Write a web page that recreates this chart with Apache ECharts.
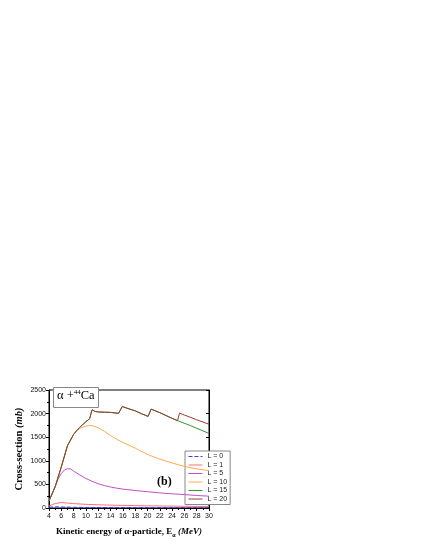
<!DOCTYPE html>
<html>
<head>
<meta charset="utf-8">
<script src="https://cdn.jsdelivr.net/npm/echarts@6/dist/echarts.min.js"></script>
<style>
  html, body { margin: 0; padding: 0; background: #fff; }
  #chart { width: 425px; height: 550px; }
</style>
</head>
<body>
<div id="chart"></div>
<script>
  // [E_alpha (MeV), cross-section (mb)]
  const seriesNames = ['L = 0', 'L = 1', 'L = 5', 'L = 10', 'L = 15', 'L = 20'];
  const seriesColors = ['#3a3aff', '#ff7070', '#c050c8', '#ffac50', '#2f9a2f', '#9a3c34'];

  const l0 = [[4, 15], [5, 25], [6, 22], [8, 16], [10, 12], [15, 9], [20, 7], [25, 6], [30, 5]];
  const l1 = [[4, 40], [5, 95], [6, 115], [7, 105], [8, 92], [10, 78], [12, 68], [15, 57], [20, 46], [25, 38], [30, 32]];
  const l5 = [[4, 150], [5, 450], [5.5, 620], [6, 730], [6.5, 805], [7, 832], [7.5, 828], [8, 780], [9, 700],
    [10, 625], [11, 565], [12, 515], [13, 475], [14, 445], [15, 420], [16, 400], [18, 370], [20, 345],
    [22, 320], [24, 300], [26, 285], [28, 265], [30, 250]];
  const l10 = [[4, 150], [5, 450], [6, 870], [7, 1320], [8, 1560], [8.5, 1630], [9, 1685], [10, 1735],
    [10.6, 1750], [11, 1745], [12, 1700], [13, 1625], [14, 1535], [15, 1455], [16, 1390], [17, 1330],
    [18, 1270], [20, 1135], [22, 1035], [24, 955], [26, 880], [28, 830], [30, 790]];
  const l15 = [[4, 150], [5, 450], [6, 870], [7, 1320], [8, 1560], [8.5, 1640], [9, 1710], [10, 1830],
    [10.6, 1890], [11, 2080], [11.5, 2045], [12, 2035], [13, 2030], [14, 2025], [15.3, 2005], [15.9, 2150],
    [17, 2100], [18, 2060], [19, 2000], [20.1, 1940], [20.6, 2095], [22, 2020], [23, 1960], [24, 1900],
    [24.9, 1850], [27, 1745], [30, 1580]];
  const l20 = [[4, 150], [5, 450], [6, 870], [7, 1320], [8, 1560], [8.5, 1640], [9, 1710], [10, 1830],
    [10.6, 1890], [11, 2080], [11.5, 2045], [12, 2035], [13, 2030], [14, 2025], [15.3, 2005], [15.9, 2150],
    [17, 2100], [18, 2060], [19, 2000], [20.1, 1940], [20.6, 2095], [22, 2020], [23, 1960], [24, 1900],
    [24.9, 1850], [25.2, 2010], [26, 1970], [28, 1870], [30, 1775]];
  const allData = [l0, l1, l5, l10, l15, l20];

  const xTicks = { min: 4, max: 30, interval: 2 };
  const yTicks = { min: 0, max: 2500, interval: 500 };

  const chart = echarts.init(document.getElementById('chart'));

  const tickLabel = { fontFamily: 'Liberation Sans', fontSize: 7, color: '#111', formatter: v => String(v) };
  const axisBase = {
    axisLine: { show: true, lineStyle: { color: '#000', width: 1 } },
    axisTick: { show: true, length: 3, lineStyle: { color: '#000' } },
    minorTick: { show: true, splitNumber: 2, length: 2, lineStyle: { color: '#000' } },
    splitLine: { show: false }
  };

  const series = allData.map((d, i) => ({
    name: seriesNames[i],
    type: 'line',
    data: d,
    symbol: 'none',
    smooth: false,
    z: 2 + i,
    lineStyle: { color: seriesColors[i], width: 1, type: i === 0 ? 'dashed' : 'solid' },
    itemStyle: { color: seriesColors[i] }
  }));

  const option = {
    animation: false,
    backgroundColor: '#fff',
    grid: {
      left: 49, right: 216, top: 390, bottom: 42,
      containLabel: false, outerBoundsMode: 'none',
      show: true, borderColor: '#000', borderWidth: 1
    },
    legend: {
      data: seriesNames,
      orient: 'vertical',
      left: 185, top: 451,
      itemWidth: 14, itemHeight: 7, itemGap: 1.5,
      padding: [2, 3, 2, 3],
      backgroundColor: '#fff',
      borderColor: '#888', borderWidth: 1, borderRadius: 0,
      itemStyle: { opacity: 0 },
      lineStyle: { width: 1 },
      textStyle: { fontFamily: 'Liberation Sans', fontSize: 7, color: '#222' }
    },
    xAxis: [{
      type: 'value', min: xTicks.min, max: xTicks.max, interval: xTicks.interval,
      position: 'bottom',
      ...axisBase,
      axisLabel: { ...tickLabel, margin: 5 },
      name: '{b|Kinetic energy of α-particle, E}{s|α}{i| (MeV)}',
      nameLocation: 'middle', nameGap: 18,
      nameTextStyle: {
        rich: {
          b: { fontFamily: 'Liberation Serif', fontWeight: 'bold', fontSize: 9, color: '#000' },
          s: { fontFamily: 'Liberation Serif', fontWeight: 'bold', fontSize: 6, color: '#000', padding: [6, 0, 0, 0] },
          i: { fontFamily: 'Liberation Serif', fontWeight: 'bold', fontStyle: 'italic', fontSize: 9, color: '#000' }
        }
      }
    }],
    yAxis: [{
      type: 'value', min: yTicks.min, max: yTicks.max, interval: yTicks.interval,
      position: 'left',
      ...axisBase,
      axisLabel: { ...tickLabel, margin: 3 },
      name: '{b|Cross-section }{i|(mb)}',
      nameLocation: 'middle', nameGap: 24, nameRotate: 90,
      nameTextStyle: {
        rich: {
          b: { fontFamily: 'Liberation Serif', fontWeight: 'bold', fontSize: 10.5, color: '#000' },
          i: { fontFamily: 'Liberation Serif', fontWeight: 'bold', fontStyle: 'italic', fontSize: 10.5, color: '#000' }
        }
      }
    }, {
      type: 'value', min: yTicks.min, max: yTicks.max, interval: yTicks.interval,
      position: 'right',
      ...axisBase,
      axisTick: { show: true, inside: true, length: 3, lineStyle: { color: '#000' } },
      minorTick: { show: false },
      axisLabel: { show: false }
    }],
    graphic: [
      {
        type: 'rect', left: 53, top: 387, z: 10,
        shape: { width: 45, height: 20 },
        style: { fill: '#fff', stroke: '#888', lineWidth: 1 }
      },
      {
        type: 'text', left: 57, top: 389, z: 11,
        style: {
          text: '{a|α +}{s|44}{a|Ca}',
          rich: {
            a: { fontFamily: 'Liberation Serif', fontSize: 12.5, fill: '#000' },
            s: { fontFamily: 'Liberation Serif', fontSize: 7, fill: '#000', padding: [0, 0, 7, 0] }
          }
        }
      },
      {
        type: 'text', left: 157, top: 476, z: 11,
        style: {
          text: '(b)',
          fontFamily: 'Liberation Serif', fontWeight: 'bold', fontSize: 12, fill: '#000'
        }
      }
    ],
    series: series
  };

  chart.setOption(option);
</script>
</body>
</html>
